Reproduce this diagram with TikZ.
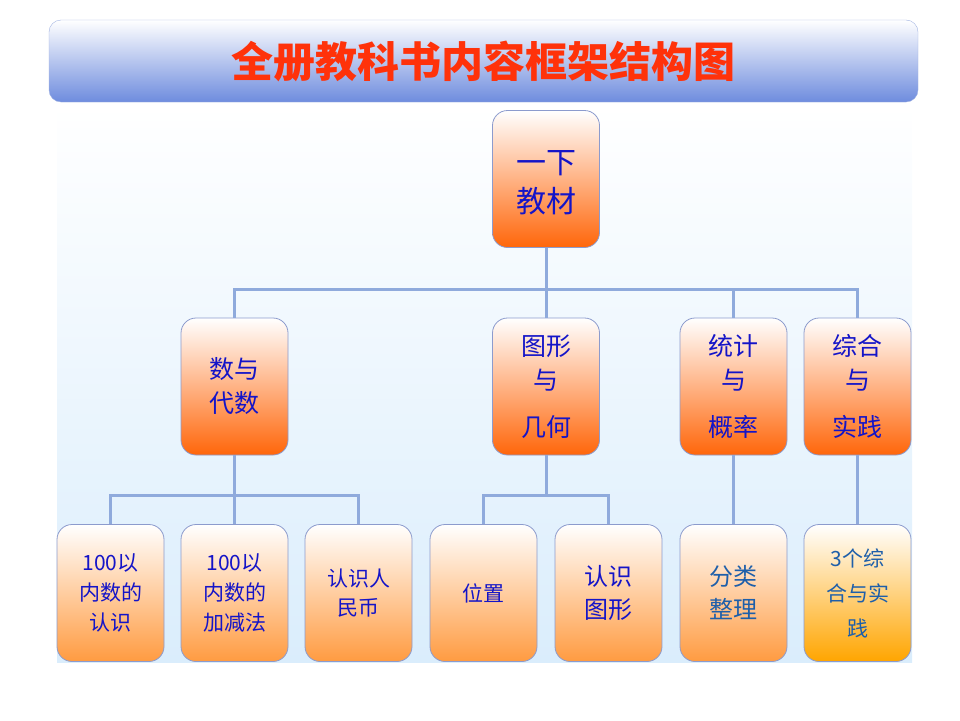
\documentclass[tikz,border=0pt]{standalone}
\usepackage{fontspec}
\newfontfamily\cjk{Noto Sans CJK SC}
\usetikzlibrary{positioning}
\definecolor{linkblue}{RGB}{143,170,220}
\definecolor{edgeblue}{RGB}{140,155,205}
\definecolor{textblue}{RGB}{20,20,200}
\definecolor{steelblue}{RGB}{30,95,170}
\definecolor{deeporange}{RGB}{255,102,10}
\definecolor{lightorange}{RGB}{255,155,65}
\definecolor{goldorange}{RGB}{255,165,0}
\definecolor{titlered}{RGB}{255,50,10}
\tikzstyle{card}=[%
  draw=edgeblue,
  line width=0.8pt,
  rounded corners=15pt,
  minimum width=107pt,
  minimum height=137pt,
  align=center,
  top color=white,
  text=textblue,
  inner sep=0pt
]
\tikzstyle{upper}=[card, bottom color=deeporange]
\tikzstyle{lower}=[card, bottom color=lightorange]
\tikzstyle{link}=[draw=linkblue, line width=3pt]

\begin{document}
\begin{tikzpicture}[x=1pt, y=-1pt]
    \useasboundingbox (0,0) rectangle (960,720);
    \shade[top color=white, bottom color={rgb,255:red,218;green,237;blue,252}]
      (57,105) rectangle (912,662);

    % title bar
    \node[draw={rgb,255:red,160;green,178;blue,225}, rounded corners=12pt,
      top color=white, bottom color={rgb,255:red,110;green,140;blue,222},
      minimum width=869pt, minimum height=82pt, inner sep=0pt,
      text=titlered, font=\cjk\bfseries\fontsize{42}{42}\selectfont]
      (title) at (483.5,61) {全册教科书内容框架结构图};

    % tree
    \node[upper, font=\cjk\fontsize{30}{39}\selectfont] (top) at (546,179)
      {\raisebox{0pt}[\dimexpr\height+12pt\relax]{\begin{tabular}{@{}c@{}}一下\\教材\end{tabular}}};

    \node[upper, font=\cjk\fontsize{25}{34}\selectfont] (sd) at (234.5,386.5) {数与\\代数};
    \node[upper, font=\cjk\fontsize{25}{34}\selectfont] (tx) at (546,386.5) {图形\\与\\[13pt]几何};
    \node[upper, font=\cjk\fontsize{25}{34}\selectfont] (tj) at (733.5,386.5) {统计\\与\\[13pt]概率};
    \node[upper, font=\cjk\fontsize{25}{34}\selectfont] (zh) at (857.5,386.5) {综合\\与\\[13pt]实践};

    \node[lower, font=\cjk\fontsize{21}{30}\selectfont] (a1) at (110.5,593) {100以\\内数的\\认识};
    \node[lower, font=\cjk\fontsize{21}{30}\selectfont] (a2) at (234.5,593) {100以\\内数的\\加减法};
    \node[lower, font=\cjk\fontsize{21}{29}\selectfont] (a3) at (358.5,593) {认识人\\民币};
    \node[lower, font=\cjk\fontsize{21}{30}\selectfont] (c1) at (483.5,593) {位置};
    \node[lower, font=\cjk\fontsize{24}{33}\selectfont] (c2) at (608.5,593) {认识\\图形};
    \node[lower, text=steelblue, font=\cjk\fontsize{24}{33}\selectfont] (d1) at (733.5,593) {分类\\整理};
    \node[lower, text=steelblue, bottom color=goldorange,
      font=\cjk\fontsize{21}{35}\selectfont] (e1) at (857.5,593) {3个综\\合与实\\践};

    % connectors
    \coordinate (b1) at (546,289);
    \coordinate (b2) at (234.5,495);
    \coordinate (b3) at (546,495);
    \draw[link] (top) -- (b1);
    \foreach \n in {sd, tx, tj, zh} {%
      \draw[link] (b1) -| (\n);
    }
    \draw[link] (sd) -- (b2);
    \foreach \n in {a1, a2, a3} {%
      \draw[link] (b2) -| (\n);
    }
    \draw[link] (tx) -- (b3);
    \foreach \n in {c1, c2} {%
      \draw[link] (b3) -| (\n);
    }
    \draw[link] (tj) -- (d1);
    \draw[link] (zh) -- (e1);
  \end{tikzpicture}
\end{document}
